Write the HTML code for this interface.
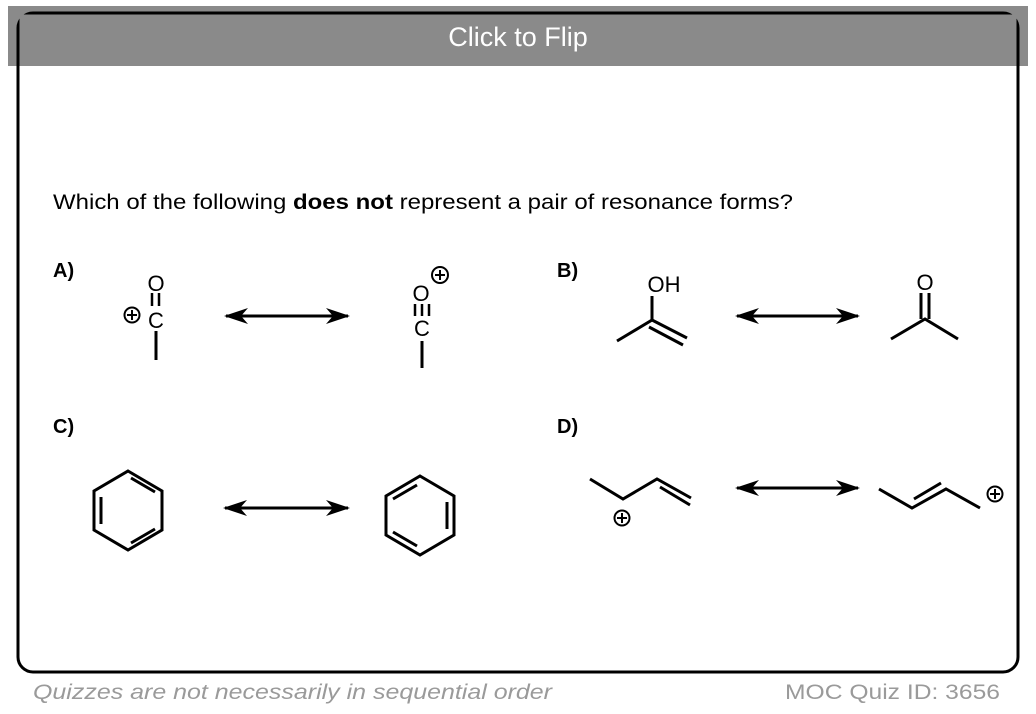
<!DOCTYPE html>
<html><head><meta charset="utf-8"><style>
html,body{margin:0;padding:0;background:#fff;}
body{width:1036px;height:714px;position:relative;overflow:hidden;font-family:"Liberation Sans",sans-serif;}
</style></head><body>
<svg width="1036" height="714" viewBox="0 0 1036 714" xmlns="http://www.w3.org/2000/svg" style="position:absolute;left:0;top:0">
<defs>
<marker id="ah" viewBox="0 0 24 16" refX="22" refY="8" markerWidth="24" markerHeight="16" markerUnits="userSpaceOnUse" orient="auto-start-reverse">
<path d="M0,0 L24,8 L0,16 L7,8 Z" fill="#000"/></marker>
</defs>
<rect x="8" y="6" width="1020" height="60" fill="#8a8a8a"/>
<rect x="18" y="13" width="1000" height="659" rx="15" ry="15" fill="none" stroke="#000" stroke-width="3"/>
<rect x="19.5" y="14.5" width="997" height="51.5" fill="#8a8a8a"/>
<text x="518" y="46" text-anchor="middle" font-size="27" fill="#fff" font-family="Liberation Sans, sans-serif">Click to Flip</text>
<text x="53" y="209" font-size="21" fill="#000" textLength="740" lengthAdjust="spacingAndGlyphs">Which of the following <tspan font-weight="bold">does not</tspan> represent a pair of resonance forms?</text>
<g font-weight="bold" font-size="20">
<text x="53" y="277">A)</text><text x="557" y="277">B)</text>
<text x="53" y="433">C)</text><text x="557" y="433">D)</text>
</g>
<g stroke="#000" stroke-width="3" fill="none" stroke-linecap="butt">
<line x1="226" y1="316" x2="348" y2="316" marker-start="url(#ah)" marker-end="url(#ah)"/>
<line x1="737" y1="316" x2="858" y2="316" marker-start="url(#ah)" marker-end="url(#ah)"/>
<line x1="225" y1="508" x2="348" y2="508" marker-start="url(#ah)" marker-end="url(#ah)"/>
<line x1="737" y1="488" x2="858" y2="488" marker-start="url(#ah)" marker-end="url(#ah)"/>
<line x1="152" y1="293" x2="152" y2="306" stroke-width="2.5"/><line x1="159" y1="293" x2="159" y2="306" stroke-width="2.5"/>
<line x1="156" y1="331" x2="156" y2="360"/>
<circle cx="132" cy="315" r="7.5" stroke-width="2"/>
<line x1="127" y1="315" x2="137" y2="315" stroke-width="2"/><line x1="132" y1="310" x2="132" y2="320" stroke-width="2"/>
<line x1="415" y1="304" x2="415" y2="316" stroke-width="2.5"/><line x1="422" y1="304" x2="422" y2="316" stroke-width="2.5"/><line x1="429" y1="304" x2="429" y2="316" stroke-width="2.5"/>
<line x1="422" y1="341" x2="422" y2="368"/>
<circle cx="440" cy="275" r="8" stroke-width="2"/>
<line x1="435" y1="275" x2="445" y2="275" stroke-width="2"/><line x1="440" y1="270" x2="440" y2="280" stroke-width="2"/>
<polyline points="652,296 652,320 617,341"/>
<line x1="652" y1="320" x2="687" y2="338"/><line x1="649" y1="327" x2="683" y2="345"/>
<polyline points="891,339 925,319 958,339"/>
<line x1="921" y1="293" x2="921" y2="319"/><line x1="929" y1="293" x2="929" y2="319"/>
<polygon points="128,471 162,491 162,530 128,550 94,530 94,491"/>
<line x1="101" y1="497" x2="101" y2="524"/><line x1="131" y1="478" x2="155" y2="492"/><line x1="131" y1="543" x2="155" y2="529"/>
<polygon points="420,476 454,496 454,535 420,555 386,535 386,496"/>
<line x1="447" y1="502" x2="447" y2="529"/><line x1="393" y1="499" x2="417" y2="485"/><line x1="393" y1="532" x2="417" y2="546"/>
<polyline points="590,479 623,499 657,479 691,498"/>
<line x1="660" y1="487" x2="690" y2="505"/>
<circle cx="622" cy="518" r="7.5" stroke-width="2"/>
<line x1="617" y1="518" x2="627" y2="518" stroke-width="2"/><line x1="622" y1="513" x2="622" y2="523" stroke-width="2"/>
<polyline points="879,489 912,508 946,489 980,508"/>
<line x1="914" y1="499" x2="941" y2="483"/>
<circle cx="995" cy="494" r="7.5" stroke-width="2"/>
<line x1="990" y1="494" x2="1000" y2="494" stroke-width="2"/><line x1="995" y1="489" x2="995" y2="499" stroke-width="2"/>
</g>
<g font-size="22" text-anchor="middle" fill="#000">
<text x="156" y="291">O</text><text x="156" y="328">C</text>
<text x="421" y="301">O</text><text x="422" y="336">C</text>
<text x="664" y="292">OH</text>
<text x="925" y="290">O</text>
</g>
<text x="33" y="699" font-size="21" font-style="italic" fill="#9a9a9a" textLength="519" lengthAdjust="spacingAndGlyphs">Quizzes are not necessarily in sequential order</text>
<text x="785" y="699" font-size="21" fill="#9a9a9a" textLength="215" lengthAdjust="spacingAndGlyphs">MOC Quiz ID: 3656</text>
</svg>
</body></html>
